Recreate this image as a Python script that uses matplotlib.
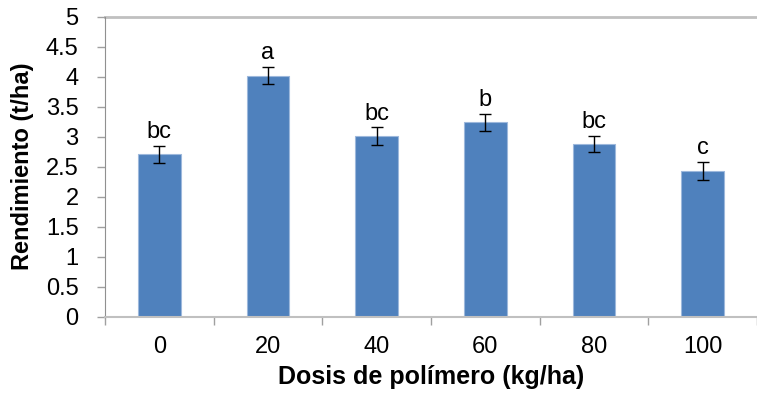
import matplotlib.pyplot as plt

plt.rcParams['font.family'] = ['Liberation Sans', 'DejaVu Sans']

dosis = ['0', '20', '40', '60', '80', '100']
rendimiento = [2.71, 4.02, 3.01, 3.24, 2.88, 2.43]
error = [0.14, 0.14, 0.145, 0.14, 0.14, 0.15]
letras = ['bc', 'a', 'bc', 'b', 'bc', 'c']

fig = plt.figure(figsize=(7.57, 3.93), dpi=100)
ax = fig.add_axes([105 / 757, 1 - 316.7 / 393, 652 / 757, 300 / 393])

x = range(len(dosis))
ax.bar(x, rendimiento, width=0.39, color='#4f81bd', edgecolor='#9db8dc',
       linewidth=0.8, zorder=2)
ax.errorbar(x, rendimiento, yerr=error, fmt='none', ecolor='black',
            elinewidth=1, capsize=4.5, capthick=1, zorder=3)

# letras de significancia sobre cada barra
for i, (v, e, l) in enumerate(zip(rendimiento, error, letras)):
    ax.annotate(l, (i, v + e), xytext=(0, 2), textcoords='offset points',
                ha='center', va='bottom', fontsize=17)

ax.set_xlim(-0.5, -0.5 + 652 / 110.3)
ax.set_ylim(0, 5)
ax.set_yticks([0, 0.5, 1, 1.5, 2, 2.5, 3, 3.5, 4, 4.5, 5])
ax.set_yticklabels(['0', '0.5', '1', '1.5', '2', '2.5', '3', '3.5', '4', '4.5', '5'])
ax.axhline(5, color='#c0c0c0', linewidth=2, clip_on=False, zorder=1)

ax.set_xticks(list(x))
ax.set_xticklabels(dosis)
ax.set_xticks([i + 0.5 for i in range(-1, len(dosis))], minor=True)
ax.tick_params(axis='x', which='major', length=0, pad=14, labelsize=17)
ax.tick_params(axis='x', which='minor', length=6, width=1, color='#a0a0a0')
ax.tick_params(axis='y', length=6, width=1, color='#a0a0a0', pad=13, labelsize=17)

for s in ['top', 'right']:
    ax.spines[s].set_visible(False)
ax.spines['left'].set_color('#909090')
ax.spines['bottom'].set_color('#c0c0c0')
ax.spines['bottom'].set_linewidth(1.5)

ax.set_ylabel('Rendimiento (t/ha)', fontsize=17, fontweight='bold')
ax.yaxis.set_label_coords(-0.127, 0.5)
ax.yaxis.label.set_va('center')
ax.set_xlabel('Dosis de polímero (kg/ha)', fontsize=18, fontweight='bold')
ax.xaxis.set_label_coords(0.5, -0.2)
ax.xaxis.label.set_va('center')

plt.savefig('out.png', dpi=100)
